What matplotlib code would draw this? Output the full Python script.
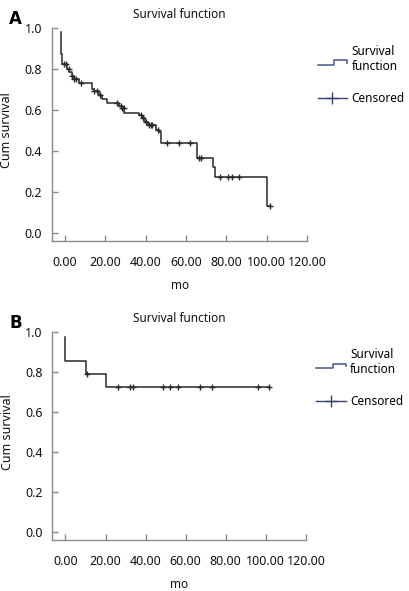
import numpy as np
import matplotlib
matplotlib.use('Agg')
import matplotlib.pyplot as plt
from matplotlib.lines import Line2D
from matplotlib.legend_handler import HandlerBase

# panel A: Kaplan-Meier step points (time in months, cumulative survival)
times_a = [-2.2, -2.05, -1.9, -1.7, 0.8, 2.0, 3.2, 4.5, 7.0, 13.3, 14.2, 17.0,
           18.5, 20.5, 26.7, 28.0, 29.2, 36.7, 38.3, 39.5, 41.0, 45.0, 46.5,
           47.5, 65.3, 73.3, 74.2, 100.0, 101.8]
surv_a = [0.979, 0.93, 0.87, 0.823, 0.80, 0.782, 0.765, 0.752, 0.73, 0.70, 0.69,
          0.67, 0.655, 0.633, 0.62, 0.61, 0.587, 0.576, 0.56, 0.543, 0.527,
          0.502, 0.494, 0.437, 0.364, 0.319, 0.273, 0.133, 0.133]
censored_a = [-0.8, 0.5, 1.7, 3.3, 4.5, 5.3, 8.0, 14.2, 15.8, 17.5, 25.8, 27.5,
              28.3, 29.0, 37.5, 38.8, 40.0, 41.7, 42.5, 43.3, 46.0, 50.3, 56.3,
              61.7, 66.3, 67.2, 77.0, 80.8, 83.0, 86.2, 101.8]

# panel B
times_b = [0.0, 0.0, 10.0, 20.0, 101.7]
surv_b = [0.972, 0.853, 0.79, 0.725, 0.725]
censored_b = [10.7, 26.2, 32.3, 33.7, 48.7, 52.0, 56.2, 67.3, 73.2, 96.2, 101.7]

xticks = [0, 20, 40, 60, 80, 100, 120]
yticks = [0.0, 0.2, 0.4, 0.6, 0.8, 1.0]

plt.rcParams['font.family'] = ['Noto Sans', 'DejaVu Sans']
AXCOL = '#8a8a8a'
LINECOL = '#2a2a2a'
TXTCOL = '#111111'


class StepHandler(HandlerBase):
    # draws the little step glyph SPSS uses for the survival function
    def create_artists(self, legend, orig, xd, yd, width, height, fontsize, trans):
        xs = [xd, xd + 0.55 * width, xd + 0.55 * width, xd + width, xd + width]
        ys = [yd - 0.1 * height, yd - 0.1 * height, yd + 0.45 * height,
              yd + 0.45 * height, yd + 0.15 * height]
        ln = Line2D(xs, ys, color='#56609a', lw=1.2, transform=trans)
        return [ln]


def step_value(t, times, surv):
    i = np.searchsorted(times, t, side='right') - 1
    return surv[max(i, 0)]


def draw_panel(ax, times, surv, cens, letter):
    times = np.array(times)
    surv = np.array(surv)
    ax.plot(times, surv, drawstyle='steps-post', color=LINECOL, lw=1.1)
    cy = [step_value(t, times, surv) for t in cens]
    ax.plot(cens, cy, ls='none', marker='+', ms=4, mew=1.0, color=LINECOL)

    ax.set_xlim(-6.5, 120)
    ax.set_ylim(-0.04, 1.0)
    ax.set_xticks(xticks)
    ax.set_xticklabels(['%.2f' % v for v in xticks])
    ax.set_yticks(yticks)
    ax.set_yticklabels(['%.1f' % v for v in yticks])
    for s in ['top', 'right']:
        ax.spines[s].set_visible(False)
    for s in ['left', 'bottom']:
        ax.spines[s].set_color(AXCOL)
        ax.spines[s].set_linewidth(1.0)
    ax.tick_params(axis='both', direction='in', length=4, width=1.0,
                   color=AXCOL, labelsize=9, labelcolor=TXTCOL)
    ax.tick_params(axis='x', pad=11)
    ax.tick_params(axis='y', pad=7)
    ax.set_title('Survival function', fontsize=8.5, pad=7, color=TXTCOL)
    ax.set_xlabel('mo', fontsize=8.5, labelpad=7, color=TXTCOL)
    ax.set_ylabel('Cum survival', fontsize=9, color=TXTCOL)
    ax.yaxis.set_label_coords(-0.153, 0.52)

    h1 = Line2D([], [], color='#56609a')
    h2 = Line2D([], [], color='#3a4070', lw=1.0, marker='+', ms=9, mew=1.0)
    ax.legend([h1, h2], ['Survival\nfunction', 'Censored'],
              handler_map={h1: StepHandler()},
              loc='upper left', bbox_to_anchor=(1.0, 0.97), frameon=False,
              fontsize=8.5, handlelength=2.5, handletextpad=0.35,
              labelspacing=1.6)
    ax.text(-0.17, 1.085, letter, transform=ax.transAxes, fontsize=12,
            fontweight='bold', va='top', ha='left', family='DejaVu Sans')


fig = plt.figure(figsize=(4.10, 5.91), dpi=100)
ax_a = fig.add_axes([0.127, 0.592, 0.622, 0.361])
ax_b = fig.add_axes([0.128, 0.086, 0.618, 0.353])
draw_panel(ax_a, times_a, surv_a, censored_a, 'A')
draw_panel(ax_b, times_b, surv_b, censored_b, 'B')

fig.savefig('out.png', dpi=100)
